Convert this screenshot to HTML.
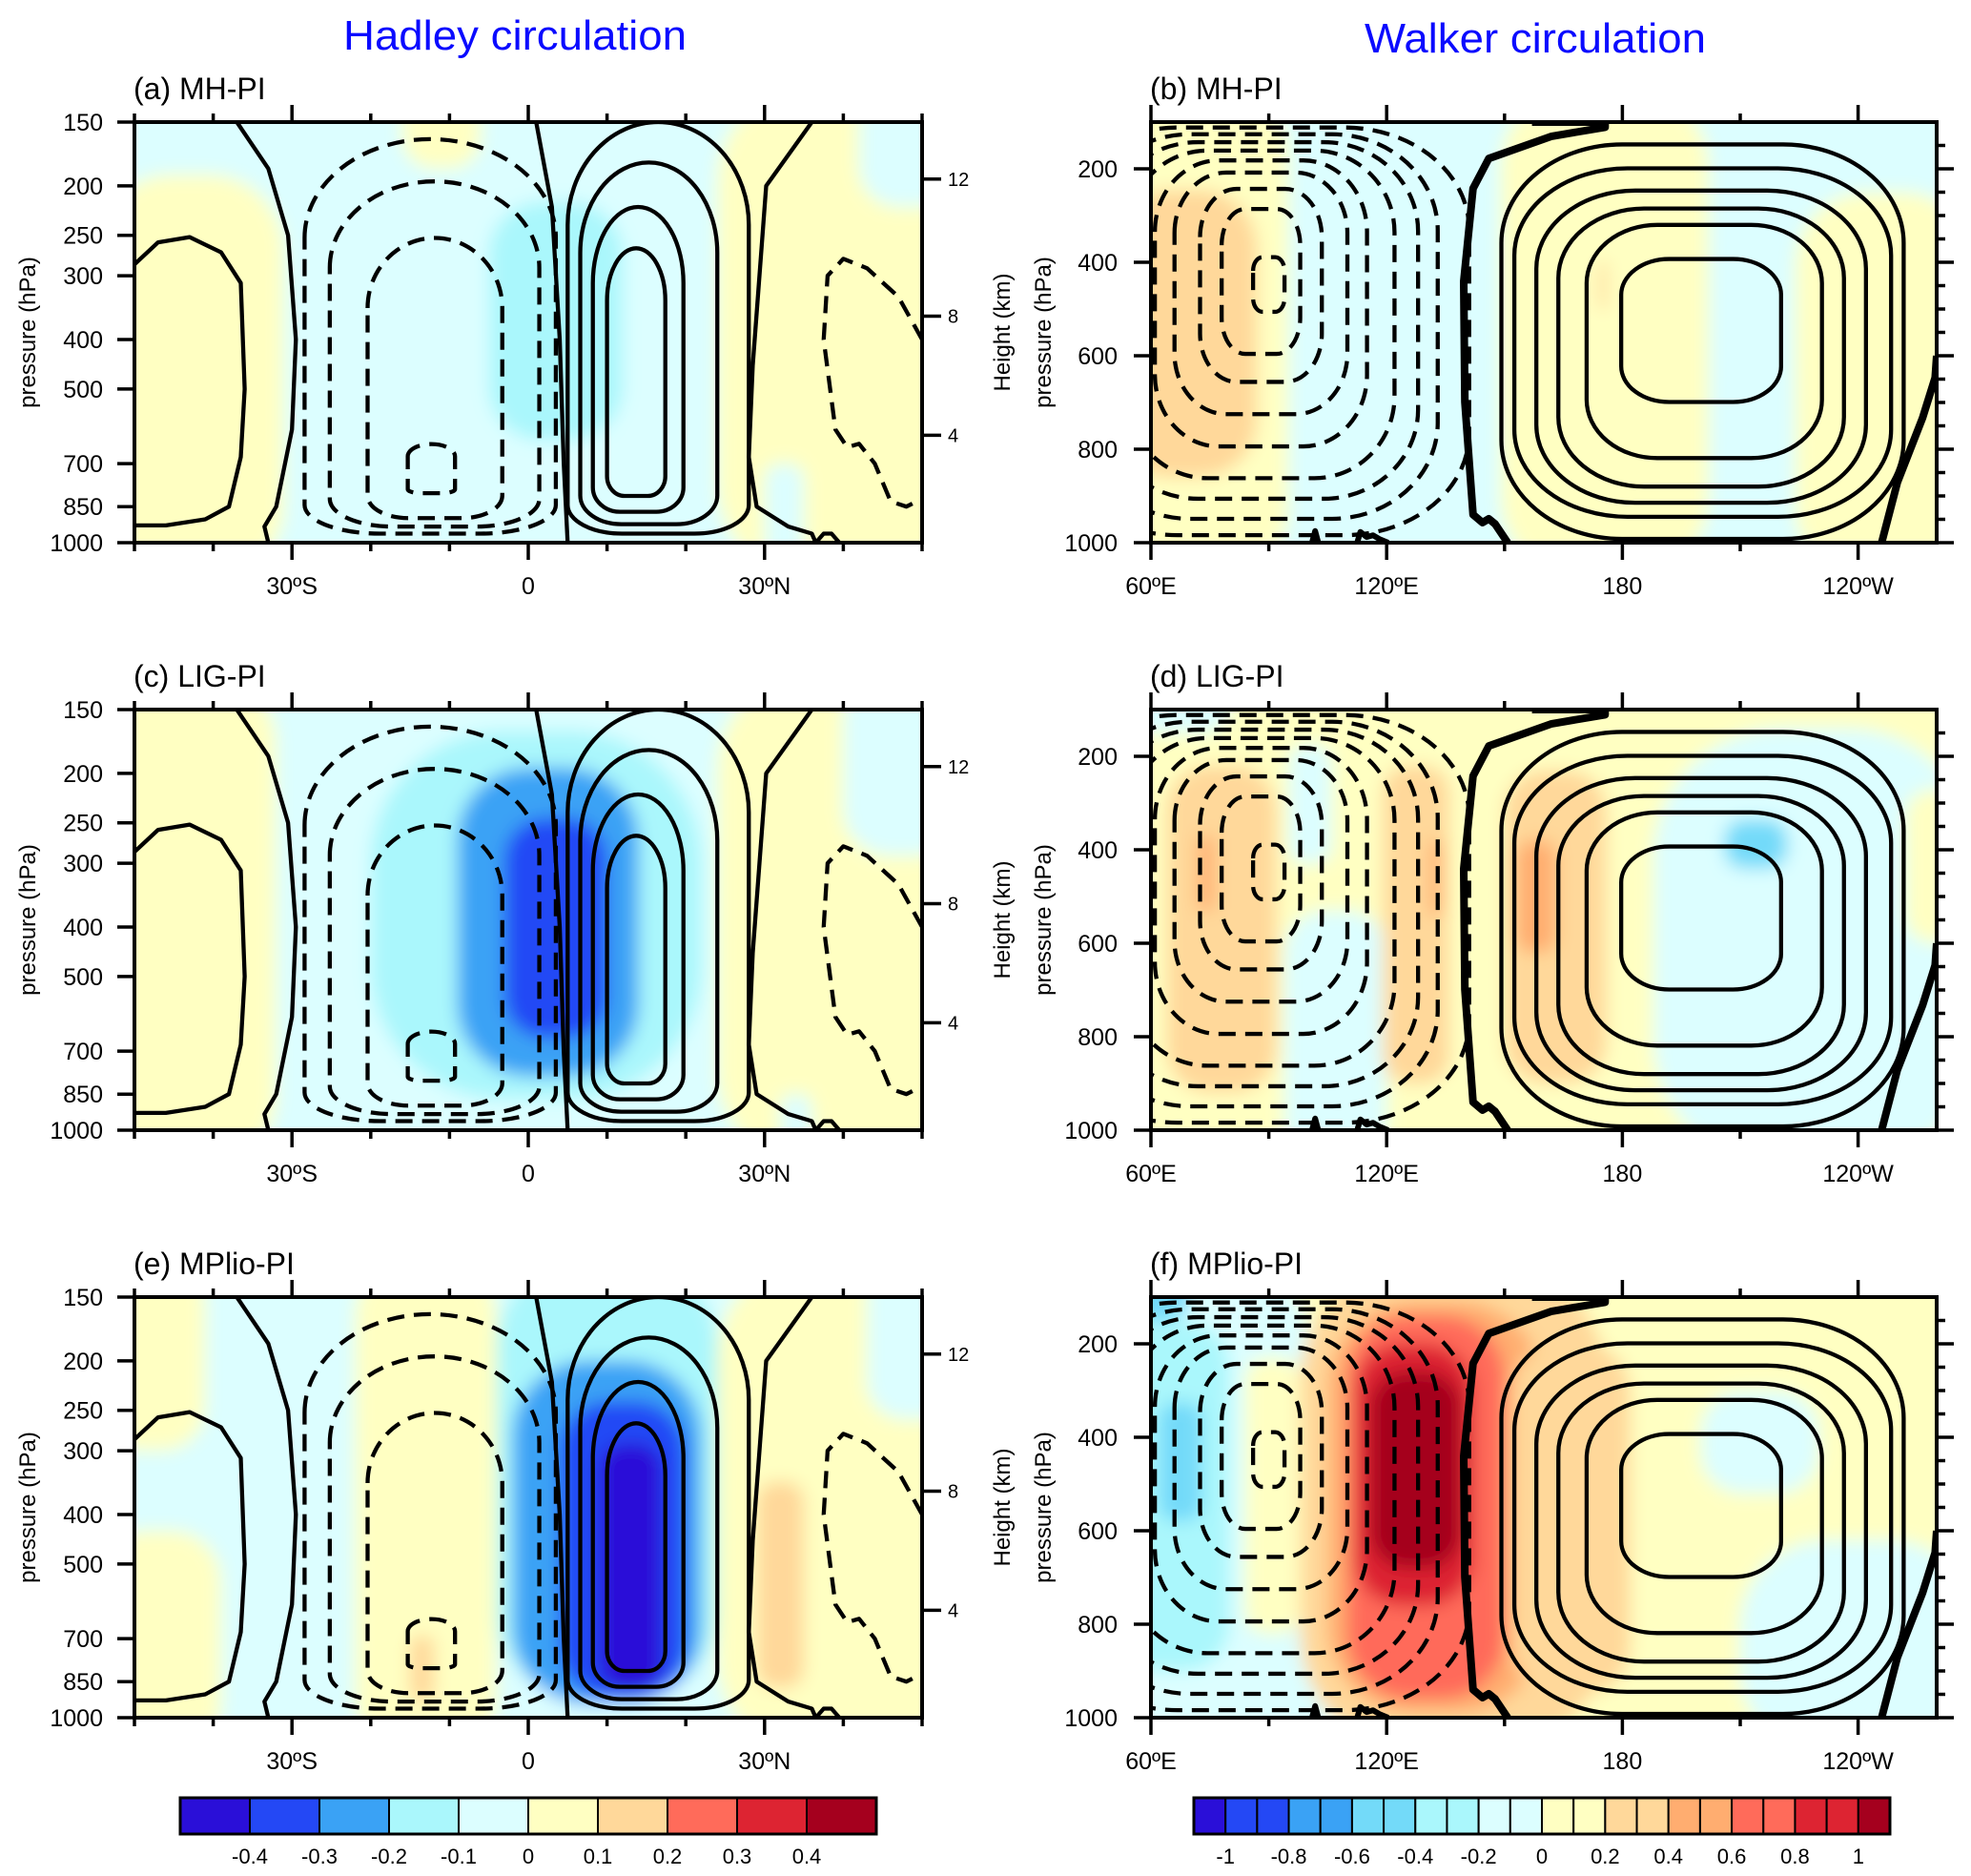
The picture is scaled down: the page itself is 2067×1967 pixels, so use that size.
<!DOCTYPE html>
<html><head><meta charset="utf-8">
<style>
html,body{margin:0;padding:0;background:#fff;}
svg{display:block;font-family:"Liberation Sans",Arial,sans-serif;}
</style></head>
<body>
<svg id="fig" width="2067" height="1967" viewBox="0 0 2067 1967">
<defs>
<filter id="blur" x="-30%" y="-30%" width="160%" height="160%"><feGaussianBlur stdDeviation="9"/></filter>
</defs>
<rect x="0" y="0" width="2067" height="1967" fill="#fff"/>
<text x="540" y="52" font-size="44" fill="#0a0aff" text-anchor="middle" textLength="360" lengthAdjust="spacingAndGlyphs">Hadley circulation</text>
<text x="1610" y="55" font-size="44" fill="#0a0aff" text-anchor="middle" textLength="358" lengthAdjust="spacingAndGlyphs">Walker circulation</text>
</svg>
<script>
// ---------- palettes ----------
const hadleyColors = ['#2a0fd8','#2448f5','#3aa2f5','#aaf7fc','#dcfeff','#ffffc2','#ffd89a','#ff6b5a','#dd2432','#a5001e'];
const hadleyLevels = [-0.4,-0.3,-0.2,-0.1,0,0.1,0.2,0.3,0.4];
const walkerColors = ['#2a0fd8','#2448f5','#2448f5','#3aa2f5','#3aa2f5','#73daf9','#73daf9','#aaf7fc','#aaf7fc','#dcfeff','#dcfeff','#ffffc2','#ffffc2','#ffd89a','#ffd89a','#ffad70','#ffad70','#ff6b5a','#ff6b5a','#dd2432','#dd2432','#a5001e'];
const walkerLevels = [-1,-0.9,-0.8,-0.7,-0.6,-0.5,-0.4,-0.3,-0.2,-0.1,0,0.1,0.2,0.3,0.4,0.5,0.6,0.7,0.8,0.9,1];
const walkerLabelLevels = [-1,-0.8,-0.6,-0.4,-0.2,0,0.2,0.4,0.6,0.8,1];

// ---------- shading patches (value, x-range, pressure range) ----------
const aVal  = [-0.05, 0.05, 0.05, -0.05, -0.05, 0.05, -0.15];
const aLat0 = [-50, -50, 24, 42, 30, -16, -5];
const aLat1 = [50, -31, 50, 50, 35, -6, 12];
const aP0   = [150, 190, 150, 150, 700, 150, 215];
const aP1   = [1000, 1000, 1000, 220, 1000, 185, 630];

const cVal  = [-0.05, 0.05, 0.05, -0.05, -0.05, -0.15, -0.25, -0.35];
const cLat0 = [-50, -50, 24, 40, 32, -20, -9, -3];
const cLat1 = [50, -32, 50, 50, 36, 22, 14, 10];
const cP0   = [150, 150, 150, 150, 850, 165, 195, 245];
const cP1   = [1000, 1000, 1000, 290, 1000, 870, 785, 660];

const eVal  = [-0.05, 0.05, 0.05, 0.05, 0.05, -0.05, 0.15, 0.15, -0.15, -0.25, -0.35, -0.45];
const eLat0 = [-50, -22, -50, -50, 24, 43, 29, -15, -4, -2, 4, 9];
const eLat1 = [50, -4, -41, -39, 50, 50, 35, -12, 24, 22, 20, 17];
const eP0   = [150, 150, 150, 430, 150, 150, 345, 690, 150, 200, 240, 290];
const eP1   = [1000, 1000, 300, 1000, 1000, 260, 875, 930, 920, 940, 910, 880];

const bVal  = [-0.05, 0.05, 0.05, 0.05, -0.05, 0.25, 0.25];
const bLon0 = [60, 60, 149, 224, 238, 60, 174];
const bLon1 = [260, 95, 202, 260, 260, 87, 176];
const bP0   = [100, 100, 100, 250, 100, 245, 400];
const bP1   = [1000, 1000, 1000, 1000, 240, 860, 500];

const dVal  = [0.05, -0.05, -0.05, -0.05, -0.05, 0.05, -0.45, 0.25, 0.25, 0.25, 0.45, 0.45, 0.45];
const dLon0 = [60, 60, 95, 94, 188, 252, 206, 64, 119, 150, 72, 131, 153];
const dLon1 = [260, 80, 106, 120, 260, 260, 222, 92, 136, 176, 76, 134, 163];
const dP0   = [100, 100, 175, 530, 140, 270, 335, 220, 220, 230, 370, 380, 380];
const dP1   = [1000, 150, 430, 1000, 1000, 600, 440, 920, 900, 900, 530, 540, 620];

const fVal  = [0.05, -0.15, -0.15, -0.35, -0.45, -0.45, 0.05, 0.25, 0.45, 0.65, 0.85, 1.05, 0.25, -0.15, -0.15];
const fLon0 = [60, 60, 60, 60, 62, 60, 84, 98, 105, 110, 112, 116, 152, 200, 210];
const fLon1 = [260, 100, 115, 80, 73, 70, 98, 176, 160, 150, 142, 139, 182, 230, 260];
const fP0   = [100, 100, 850, 150, 325, 100, 230, 100, 110, 140, 200, 260, 200, 300, 620];
const fP1   = [1000, 1000, 1000, 900, 580, 150, 820, 1000, 990, 960, 760, 680, 950, 520, 1000];

// ---------- climatological streamfunction contours ----------
const hadDashLat0 = [-28.4, -25.2, -20.4, -15.3];
const hadDashLat1 = [3.5, 1.4, -3.3, -9.3];
const hadDashP0   = [162, 196, 253, 641];
const hadDashP1   = [960, 930, 895, 800];
const hadSolidLat0 = [5, 6.6, 8.2, 10];
const hadSolidLat1 = [28, 24, 19.7, 17.4];
const hadSolidP0   = [150, 180, 220, 265];
const hadSolidP1   = [960, 920, 870, 810];
const hadZeroSLat = [-37, -33, -30.5, -29.5, -30, -32, -33.5, -33];
const hadZeroSP   = [150, 185, 250, 400, 600, 850, 930, 1000];
const hadZeroELat = [1, 3, 4, 4.5, 5];
const hadZeroEP   = [150, 220, 400, 700, 1000];
const hadZeroNLat = [36, 30.2, 28.5, 28, 29, 33, 36, 36.5, 37.5, 38.5, 39.5];
const hadZeroNP   = [150, 200, 450, 680, 850, 930, 960, 1000, 960, 960, 1000];
const hadLoopSLat = [-50, -47, -43, -39, -36.5, -36, -36.5, -38, -41, -46, -50];
const hadLoopSP   = [285, 258, 252, 270, 310, 500, 680, 850, 900, 925, 925];
const hadLoopNLat = [50, 47, 43, 40, 38, 37.5, 39, 40.5, 42, 44, 46, 48, 50];
const hadLoopNP   = [400, 330, 290, 278, 300, 400, 600, 650, 640, 700, 830, 850, 820];

const wkDashLon0 = [35, 43, 48, 54, 61, 66, 72.5, 78, 86];
const wkDashLon1 = [141, 133, 128, 122, 115, 110, 103.5, 98, 94];
const wkDashP0   = [111.6, 126, 143, 161, 182, 208, 243, 286, 389];
const wkDashP1   = [984, 949, 906, 862, 794, 725, 656, 596, 506];
const wkSolidLon0 = [149.2, 152.5, 158.1, 163.7, 170.9, 179.7];
const wkSolidLon1 = [251.6, 248.4, 242, 236.4, 230.8, 220.4];
const wkSolidP0   = [147.8, 199, 246.6, 285, 320, 393];
const wkSolidP1   = [992, 944.7, 914.6, 880, 819, 699];
const wkZeroWLon = [157, 175.6, 175.6, 162, 146, 142, 139.6, 139.9, 142, 144.4, 146, 147.6, 150.8];
const wkZeroWP   = [100, 100, 111, 130.5, 178, 242, 441, 699, 940, 957, 949, 960, 1000];
const wkZeroELon = [260, 259.6, 256.4, 250, 246];
const wkZeroEP   = [600, 647, 733, 871, 1000];
const wkBump1Lon = [101, 101.8, 102.6];
const wkBump1P   = [1000, 975, 1000];
const wkBump2Lon = [112.5, 113.3, 114.9, 116.5, 118.1, 120.4];
const wkBump2P   = [1000, 977, 988, 984, 992, 1000];

// ---------- tick data ----------
const hadPTicks = [150, 200, 250, 300, 400, 500, 700, 850, 1000];
const hadKm = [12, 8, 4];
const hadKmP = [194, 360, 616];
const hadLatMajor = [-30, 0, 30];
const hadLatLabels = ['30ºS', '0', '30ºN'];
const wkPTicks = [200, 400, 600, 800, 1000];
const wkLonMajor = [60, 120, 180, 240];
const wkLonLabels = ['60ºE', '120ºE', '180', '120ºW'];

// ---------- helpers ----------
const NS = 'http://www.w3.org/2000/svg';
const svg = document.getElementById('fig');
const defs = svg.querySelector('defs');
function mk(tag, attrs, parent) {
  const e = document.createElementNS(NS, tag);
  for (const k in attrs) e.setAttribute(k, attrs[k]);
  parent.appendChild(e);
  return e;
}
const HL = 141, HW = 826, WL = 1207, WW = 824, FH = 441;
function hx(lat){ return HL + (lat + 50) * HW / 100; }
function hy(top, p){ return top + FH * Math.log(p / 150) / Math.log(1000 / 150); }
function wx(lon){ return WL + (lon - 60) * WW / 200; }
function wy(top, p){ return top + FH * (p - 100) / 900; }
function colorH(v){ let i = 0; while (i < hadleyLevels.length && v > hadleyLevels[i]) i++; return hadleyColors[i]; }
function colorW(v){ let i = 0; while (i < walkerLevels.length && v > walkerLevels[i]) i++; return walkerColors[i]; }

function rr(x0,y0,x1,y1,rxT,ryT,rxB,ryB){
  const w=x1-x0,h=y1-y0;
  rxT=Math.min(rxT,w/2); rxB=Math.min(rxB,w/2); ryT=Math.min(ryT,h/2); ryB=Math.min(ryB,h/2);
  return `M${x0},${y0+ryT} A${rxT},${ryT} 0 0 1 ${x0+rxT},${y0} L${x1-rxT},${y0} A${rxT},${ryT} 0 0 1 ${x1},${y0+ryT} L${x1},${y1-ryB} A${rxB},${ryB} 0 0 1 ${x1-rxB},${y1} L${x0+rxB},${y1} A${rxB},${ryB} 0 0 1 ${x0},${y1-ryB} Z`;
}

function drawPanel(kind, top, label, vals, x0s, x1s, p0s, p1s, id) {
  const X = kind === 'h' ? hx : wx;
  const Y = p => kind === 'h' ? hy(top, p) : wy(top, p);
  const left = kind === 'h' ? HL : WL;
  const FW = kind === 'h' ? HW : WW;
  const xmin = kind === 'h' ? -50 : 60, xmax = kind === 'h' ? 50 : 260;
  const pmin = kind === 'h' ? 150 : 100;
  const cp = mk('clipPath', {id: 'clip' + id}, defs);
  mk('rect', {x: left, y: top, width: FW, height: FH}, cp);

  const panel = mk('g', {}, svg);
  
  

  const sg = mk('g', {'clip-path': `url(#clip${id})`}, panel);
  
  
  const bg = mk('g', {filter: 'url(#blur)'}, sg);
  for (let i = 0; i < vals.length; i++) {
    let xa = X(x0s[i]), xb = X(x1s[i]), ya = Y(p0s[i]), yb = Y(p1s[i]);
    if (x0s[i] <= xmin) xa -= 40;
    if (x1s[i] >= xmax) xb += 40;
    if (p0s[i] <= pmin) ya -= 40;
    if (p1s[i] >= 1000) yb += 40;
    const r = Math.min(xb - xa, yb - ya) * (i === 0 ? 0 : 0.4);
    const col = kind === 'h' ? colorH(vals[i]) : colorW(vals[i]);
    const el = mk('rect', {x: xa, y: ya, width: xb - xa, height: yb - ya, rx: r, ry: r, fill: col}, bg);
    
    
  }

  const cg = mk('g', {'clip-path': `url(#clip${id})`, fill: 'none', stroke: '#000', 'stroke-width': 4.3, 'stroke-linejoin': 'round'}, panel);
  
  
  function loop(a0, a1, q0, q1, dashed) {
    for (let i = 0; i < a0.length; i++) {
      const xa = X(a0[i]), xb = X(a1[i]), ya = Y(q0[i]), yb = Y(q1[i]);
      const w = xb - xa, h = yb - ya;
      let d;
      if (kind === 'h') d = rr(xa, ya, xb, yb, w/2, Math.min(h*0.25, w*0.9), w*0.3, Math.min(h*0.08, 30));
      else d = rr(xa, ya, xb, yb, w*0.3, h*0.25, w*0.3, h*0.25);
      const el = mk('path', {d: d}, cg);
      if (dashed) el.setAttribute('stroke-dasharray', '18 10');
      
      
    }
  }
  function line(xs, ps, dashed, width, name) {
    const pts = xs.map((v, i) => X(v).toFixed(1) + ',' + Y(ps[i]).toFixed(1)).join(' ');
    const el = mk('polyline', {points: pts}, cg);
    if (dashed) el.setAttribute('stroke-dasharray', '18 10');
    if (width) el.setAttribute('stroke-width', width);
    
    
  }
  if (kind === 'h') {
    loop(hadDashLat0, hadDashLat1, hadDashP0, hadDashP1, true);
    loop(hadSolidLat0, hadSolidLat1, hadSolidP0, hadSolidP1, false);
    line(hadZeroSLat, hadZeroSP, false, 0, 'zero-contour');
    line(hadZeroELat, hadZeroEP, false, 0, 'zero-contour');
    line(hadZeroNLat, hadZeroNP, false, 0, 'zero-contour');
    line(hadLoopSLat, hadLoopSP, false, 0, 'positive-contour');
    line(hadLoopNLat, hadLoopNP, true, 0, 'negative-contour');
  } else {
    loop(wkDashLon0, wkDashLon1, wkDashP0, wkDashP1, true);
    loop(wkSolidLon0, wkSolidLon1, wkSolidP0, wkSolidP1, false);
    line(wkZeroWLon, wkZeroWP, false, 8, 'zero-contour');
    line(wkZeroELon, wkZeroEP, false, 8, 'zero-contour');
    line(wkBump1Lon, wkBump1P, false, 6, 'zero-contour');
    line(wkBump2Lon, wkBump2P, false, 6, 'zero-contour');
  }

  const fr = mk('rect', {x: left, y: top, width: FW, height: FH, fill: 'none', stroke: '#000', 'stroke-width': 4}, panel);
  
  

  const tg = mk('g', {stroke: '#000', 'stroke-width': 3.5}, panel);
  
  
  const lg = mk('g', {'font-size': 25, fill: '#000'}, panel);
  
  
  const bottom = top + FH, right = left + FW;
  function txt(x, y, s, anchor, size, name) {
    const t = mk('text', {x: x, y: y, 'text-anchor': anchor}, lg);
    if (size) t.setAttribute('font-size', size);
    t.textContent = s;
    
    
    return t;
  }
  if (kind === 'h') {
    for (let lat = -50; lat <= 50; lat += 10) {
      const len = hadLatMajor.includes(lat) ? 18 : 9;
      mk('line', {x1: X(lat), y1: bottom, x2: X(lat), y2: bottom + len}, tg);
      mk('line', {x1: X(lat), y1: top, x2: X(lat), y2: top - len}, tg);
    }
    hadLatMajor.forEach((lat, i) => txt(X(lat), top + FH + 54, hadLatLabels[i], 'middle', 0, 'x-tick-label'));
    hadPTicks.forEach(p => {
      mk('line', {x1: left, y1: Y(p), x2: left - 18, y2: Y(p)}, tg);
      txt(left - 33, Y(p) + 9, String(p), 'end', 0, 'y-tick-label');
    });
    hadKm.forEach((k, i) => {
      mk('line', {x1: right, y1: Y(hadKmP[i]), x2: right + 20, y2: Y(hadKmP[i])}, tg);
      txt(right + 27, Y(hadKmP[i]) + 7, String(k), 'start', 20, 'km-tick-label');
    });
    const at = mk('text', {x: 0, y: 0, 'font-size': 24, 'text-anchor': 'middle', transform: `translate(37,${top + FH/2}) rotate(-90)`}, lg);
    at.textContent = 'pressure (hPa)';
    
    
  } else {
    for (let lon = 60; lon <= 240; lon += 30) {
      const len = wkLonMajor.includes(lon) ? 18 : 9;
      mk('line', {x1: X(lon), y1: bottom, x2: X(lon), y2: bottom + len}, tg);
      mk('line', {x1: X(lon), y1: top, x2: X(lon), y2: top - len}, tg);
    }
    wkLonMajor.forEach((lon, i) => txt(X(lon), top + FH + 54, wkLonLabels[i], 'middle', 0, 'x-tick-label'));
    wkPTicks.forEach(p => {
      mk('line', {x1: left, y1: Y(p), x2: left - 18, y2: Y(p)}, tg);
      txt(left - 35, Y(p) + 9, String(p), 'end', 0, 'y-tick-label');
    });
    for (let p = 150; p <= 1000; p += 50) {
      const len = wkPTicks.includes(p) ? 18 : 9;
      mk('line', {x1: right, y1: Y(p), x2: right + len, y2: Y(p)}, tg);
    }
    const a1 = mk('text', {x: 0, y: 0, 'font-size': 24, 'text-anchor': 'middle', transform: `translate(1059,${top + FH/2}) rotate(-90)`}, lg);
    a1.textContent = 'Height (km)';
    
    
    const a2 = mk('text', {x: 0, y: 0, 'font-size': 24, 'text-anchor': 'middle', transform: `translate(1102,${top + FH/2}) rotate(-90)`}, lg);
    a2.textContent = 'pressure (hPa)';
    
    
  }
  const pl = mk('text', {x: left - 1, y: top - 24, 'font-size': 32}, panel);
  pl.textContent = label;
  
  
}

drawPanel('h', 128, '(a) MH-PI', aVal, aLat0, aLat1, aP0, aP1, 'a');
drawPanel('h', 744, '(c) LIG-PI', cVal, cLat0, cLat1, cP0, cP1, 'c');
drawPanel('h', 1360, '(e) MPlio-PI', eVal, eLat0, eLat1, eP0, eP1, 'e');
drawPanel('w', 128, '(b) MH-PI', bVal, bLon0, bLon1, bP0, bP1, 'b');
drawPanel('w', 744, '(d) LIG-PI', dVal, dLon0, dLon1, dP0, dP1, 'd');
drawPanel('w', 1360, '(f) MPlio-PI', fVal, fLon0, fLon1, fP0, fP1, 'f');

// ---------- colorbars ----------
function colorbar(x0, x1, colors, levels, labels, name) {
  const g = mk('g', {}, svg);
  
  
  const n = colors.length, w = (x1 - x0) / n, y0 = 1885, h = 38;
  for (let i = 0; i < n; i++) {
    const r = mk('rect', {x: x0 + i * w, y: y0, width: w, height: h, fill: colors[i], stroke: '#000', 'stroke-width': 2}, g);
    
    
  }
  const fr = mk('rect', {x: x0, y: y0, width: x1 - x0, height: h, fill: 'none', stroke: '#000', 'stroke-width': 3}, g);
  
  
  levels.forEach((lv, i) => {
    if (!labels.includes(lv)) return;
    const t = mk('text', {x: x0 + (i + 1) * w, y: 1954, 'font-size': 22, 'text-anchor': 'middle'}, g);
    t.textContent = String(lv);
    
    
  });
}
colorbar(189, 919, hadleyColors, hadleyLevels, hadleyLevels, 'hadley-colorbar');
colorbar(1252, 1982, walkerColors, walkerLevels, walkerLabelLevels, 'walker-colorbar');
</script>
</body></html>
